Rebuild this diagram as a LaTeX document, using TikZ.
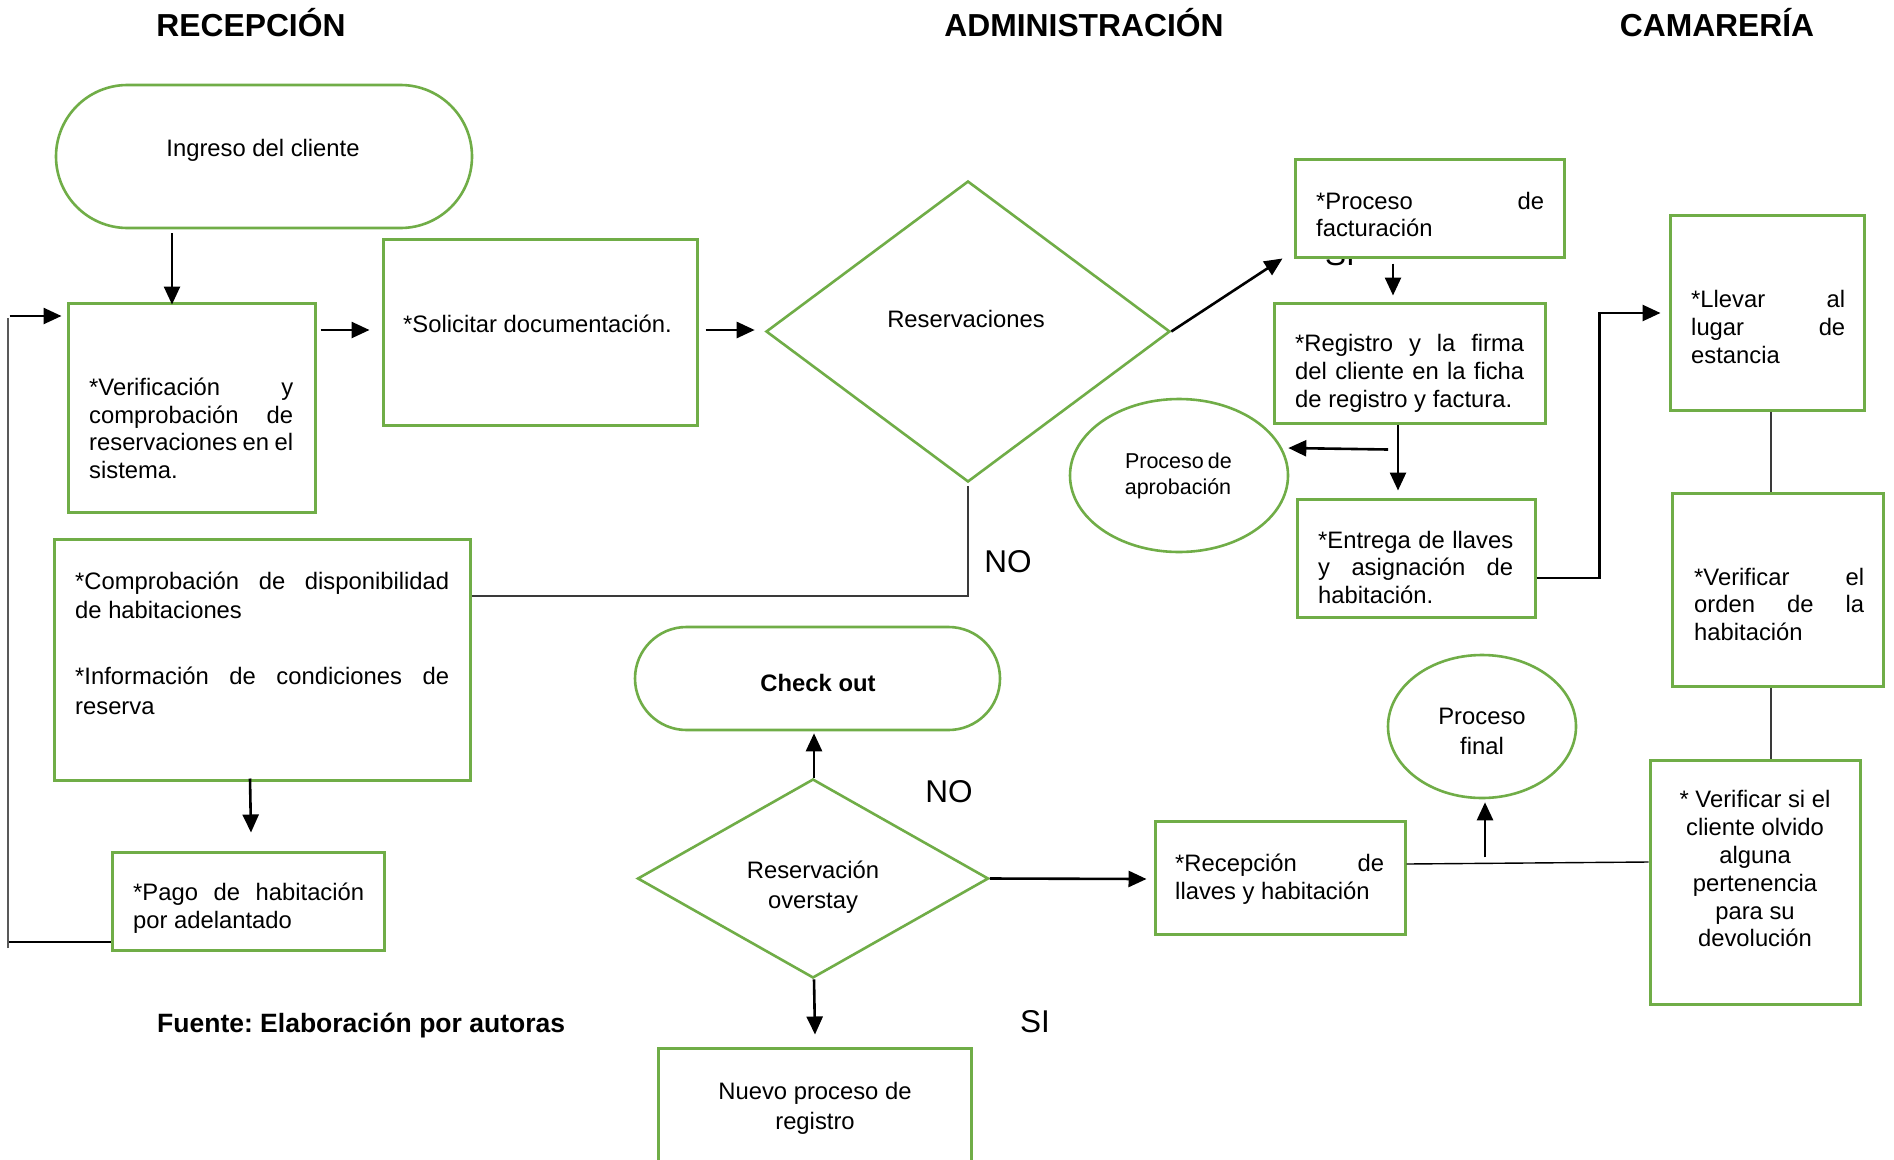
\documentclass[tikz,border=0pt]{standalone}
\usepackage{fontspec}
\setmainfont{Liberation Sans}
\usetikzlibrary{shapes.geometric,shapes.misc,arrows.meta,calc}

\definecolor{flowgreen}{HTML}{70AD47}
\definecolor{linkgray}{HTML}{3A3A3A}

% one justified line of a given width (in pt)
\newcommand{\jline}[2]{\makebox[#1pt][s]{#2}}
\newcommand{\bodysize}{\fontsize{23.8pt}{27.8pt}\selectfont}
\newcommand{\loosesize}{\fontsize{23.8pt}{29.8pt}\selectfont}

\begin{document}
\frenchspacing
\begin{tikzpicture}[x=1pt,y=-1pt,
  box/.style={draw=flowgreen, line width=3pt, fill=white, rectangle, inner sep=0pt},
  terminal/.style={draw=flowgreen, line width=2.6pt, fill=white, rounded rectangle, inner sep=0pt},
  decision/.style={draw=flowgreen, line width=2.6pt, fill=white, diamond, inner sep=0pt},
  oval/.style={draw=flowgreen, line width=2.6pt, fill=white, ellipse, inner sep=0pt},
  txt/.style={inner sep=0pt, align=left, font=\bodysize,
    execute at begin node=\strut, execute at end node=\strut},
  ctxt/.style={txt, align=center},
  flow/.style={draw=black, line width=2.6pt, -{Triangle[length=18pt,width=16pt]}},
  link/.style={draw=linkgray, line width=1.6pt},
  heading/.style={font=\fontsize{31.8pt}{36pt}\selectfont\bfseries, inner sep=0pt, anchor=base},
  answer/.style={font=\fontsize{31.5pt}{36pt}\selectfont, inner sep=0pt, anchor=base},
]
\fill[white] (0,0) rectangle (1894,1159);
\useasboundingbox (0,0) rectangle (1894,1159);

% column headings
\node[heading] (hRec) at (251,36.5) {RECEPCIÓN};
\node[heading] (hAdm) at (1084,36.5) {ADMINISTRACIÓN};
\node[heading] (hCam) at (1717,36.5) {CAMARERÍA};

% answer label partly covered by the billing box
\node[answer] (siTop) at (1340,265) {SI};

% shapes
\node[terminal, minimum width=416, minimum height=143] (ingreso) at (264,156.5) {};
\node[box, minimum width=247, minimum height=209] (verif) at (191.5,407.5) {};
\node[box, minimum width=314, minimum height=186] (solic) at (540,332) {};
\node[decision, minimum width=404, minimum height=301] (reserv) at (968,331.5) {};
\node[box, minimum width=269, minimum height=98] (factur) at (1429.5,208) {};
\node[box, minimum width=271, minimum height=120] (registro) at (1409.5,363) {};
\node[oval, minimum width=218, minimum height=153] (aprob) at (1179,475.5) {};
\node[box, minimum width=238, minimum height=118] (entrega) at (1416,558) {};
\node[box, minimum width=194, minimum height=195] (llevar) at (1767,312.5) {};
\node[box, minimum width=211, minimum height=193] (orden) at (1777.5,589.5) {};
\node[box, minimum width=210, minimum height=244] (versi) at (1755,882) {};
\node[oval, minimum width=188, minimum height=143] (final) at (1482,726.5) {};
\node[box, minimum width=250, minimum height=113] (recep) at (1280,877.5) {};
\node[decision, minimum width=351, minimum height=199] (overstay) at (813,878.5) {};
\node[terminal, minimum width=365, minimum height=103] (checkout) at (817.5,678.5) {};
\node[box, minimum width=313, minimum height=118] (nuevo) at (814.5,1107) {};
\node[box, minimum width=416, minimum height=241] (comprob) at (262,659.5) {};
\node[box, minimum width=272, minimum height=98] (pago) at (248,901) {};

% texts
\node[ctxt] (ingreso-t) at (263,151) {Ingreso del cliente};
\node[txt, anchor=west] (verif-t) at (89,432.5)
  {\jline{204}{*Verificación y}\\\jline{204}{comprobación de}\\\jline{204}{reservaciones en el}\\sistema.};
\node[txt, anchor=west] (solic-t) at (403,327) {*Solicitar documentación.};
\node[ctxt] (reserv-t) at (966,322) {Reservaciones};
\node[txt, anchor=west] (factur-t) at (1316,218.5) {\jline{228}{*Proceso de}\\facturación};
\node[txt, anchor=west] (registro-t) at (1295,375)
  {\jline{229}{*Registro y la firma}\\\jline{229}{del cliente en la ficha}\\de registro y factura.};
\node[ctxt, font=\fontsize{21.5pt}{26pt}\selectfont] (aprob-t) at (1178,477.5)
  {\jline{106}{Proceso de}\\aprobación};
\node[txt, anchor=west] (entrega-t) at (1318,571.5)
  {\jline{195}{*Entrega de llaves}\\\jline{195}{y asignación de}\\habitación.};
\node[txt, anchor=west] (llevar-t) at (1691,331) {\jline{154}{*Llevar al}\\\jline{154}{lugar de}\\estancia};
\node[txt, anchor=west] (orden-t) at (1694,608.5) {\jline{170}{*Verificar el}\\\jline{170}{orden de la}\\habitación};
\node[ctxt] (versi-t) at (1755,873)
  {* Verificar si el\\cliente olvido\\alguna\\pertenencia\\para su\\devolución};
\node[ctxt, font=\loosesize] (final-t) at (1482,736) {Proceso\\final};
\node[txt, anchor=west] (recep-t) at (1175,880.5) {\jline{209}{*Recepción de}\\llaves y habitación};
\node[ctxt, font=\loosesize] (overstay-t) at (813,889) {Reservación\\overstay};
\node[ctxt, font=\bodysize\bfseries] (checkout-t) at (818,686) {Check out};
\node[ctxt, font=\loosesize] (nuevo-t) at (815,1110) {Nuevo proceso de\\registro};
\node[txt, anchor=west, font=\loosesize] (comprob-t) at (75,647.5)
  {\jline{374}{*Comprobación de disponibilidad}\\de habitaciones\\[36pt]\jline{374}{*Información de condiciones de}\\reserva};
\node[txt, anchor=west] (pago-t) at (133,910) {\jline{231}{*Pago de habitación}\\por adelantado};

% answer labels
\node[answer] (noRes) at (1008,572) {NO};
\node[answer] (noOver) at (949,802.5) {NO};
\node[answer] (siOver) at (1035,1032) {SI};

% source line
\node[inner sep=0pt, anchor=base west, font=\fontsize{26.5pt}{30pt}\selectfont\bfseries] (fuente) at (157,1032)
  {Fuente: Elaboración por autoras};

% connectors
\draw[flow] ($(ingreso.south)+(-92,4)$) -- ($(verif.north)+(-19.5,3)$);
\draw[flow] ($(verif.east)+(4,-77.5)$) -- ($(solic.west)+(-12,-2)$);
\draw[flow] ($(solic.east)+(7,-2)$) -- ($(reserv.west)+(-10,-1.5)$);
\draw[flow] (reserv.east) -- ($(factur.south west)+(-11,0)$);
\draw[flow] ($(factur.south)+(-36.5,5)$) -- ($(registro.north)+(-16.5,-6)$);
\draw[flow] ($(registro.south)+(-21.5,25)$) -- ($(aprob.east)+(-1,-27.5)$);
\draw[flow] ($(registro.south)+(-11.5,0)$) -- ($(entrega.north)+(-18,-7)$);
\draw[flow] ($(entrega.east)+(0,20)$) -- ++(63,0) |- ($(llevar.west)+(-8,0.5)$);
\draw[link] ($(llevar.south)+(4,0)$) -- ($(orden.north)+(-6.5,0)$);
\draw[link] ($(orden.south)+(-6.5,0)$) -- ($(versi.north)+(16,0)$);
\draw[link, line width=1.4pt, draw=black] ($(recep.east)+(0,-13.5)$) -- ($(versi.west)+(0,-20)$);
\draw[flow] ($(final.south)+(3,58)$) -- ($(final.south)+(3,3)$);
\draw[flow] (overstay.east) -- ($(recep.west)+(-7,1.5)$);
\draw[flow] ($(overstay.north)+(1,0)$) -- ($(checkout.south)+(-3.5,2)$);
\draw[flow] ($(overstay.south)+(1,0)$) -- ($(nuevo.north)+(0.5,-12)$);
\draw[link] ($(reserv.south)+(0,3)$) |- ($(comprob.east)+(0,-63.5)$);
\draw[flow] ($(comprob.south)+(-12,-3)$) -- ($(pago.north)+(3,-18)$);
% return loop back to the reservation check
\coordinate (loopTop) at ($(verif.west)+(-59,-89.5)$);
\coordinate (loopBot) at ($(pago.west)+(-103,47)$);
\draw[link, line width=2pt, draw=gray!70!black] (loopBot) -- (loopTop);
\draw[link, line width=1.4pt, draw=black] ($(pago.west)+(0,41)$) -- ($(pago.west)+(-102,41)$);
\draw[flow] ($(verif.west)+(-57,-91.5)$) -- ($(verif.west)+(-5,-91.5)$);
\end{tikzpicture}
\end{document}
